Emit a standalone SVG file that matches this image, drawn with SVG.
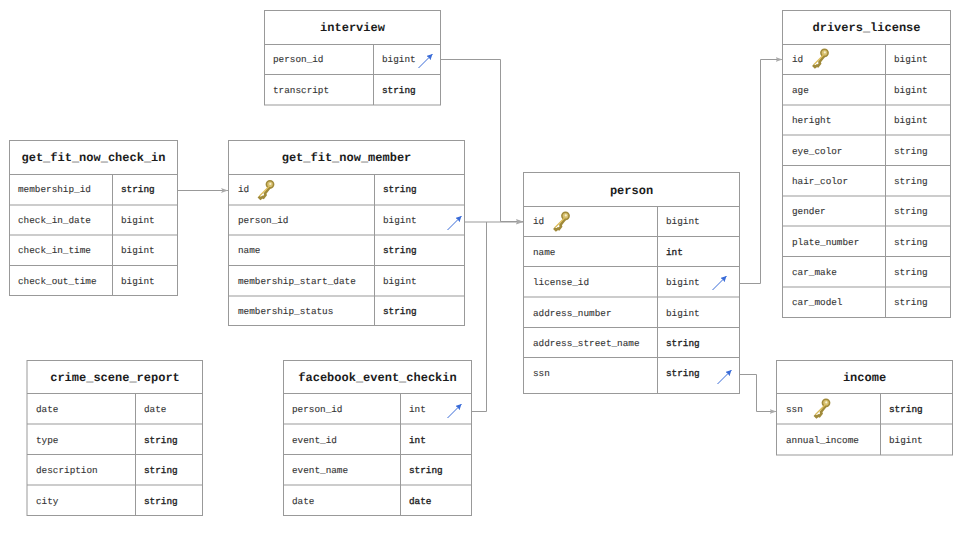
<svg xmlns="http://www.w3.org/2000/svg" width="960" height="540" viewBox="0 0 960 540">
<style>
.b{fill:#fff;stroke:#999;stroke-width:1}
.l{stroke:#999;stroke-width:1;fill:none}
.c{stroke:#999;stroke-width:1;fill:none}
text{font-family:"Liberation Mono","Courier New",monospace;fill:#333;opacity:.99;text-rendering:geometricPrecision}
.h{font-size:12px;font-weight:bold;text-anchor:middle;fill:#1a1a1a}
.t{font-size:9.35px;stroke:#333;stroke-width:.12}
.s{font-size:9.35px;fill:#222;stroke:#222;stroke-width:.35}
</style>
<defs>
<marker id="a" markerWidth="8" markerHeight="6" refX="7" refY="3" orient="auto" markerUnits="userSpaceOnUse"><path d="M0 0.5L7 3L0 5.500L1.500 3Z" fill="#aaa"/></marker>
<marker id="f" markerWidth="7" markerHeight="6" refX="6" refY="3" orient="auto" markerUnits="userSpaceOnUse"><path d="M0 0L6 3L0 6L1 3Z" fill="#3a6cd8"/></marker>
<g id="key"><path d="M1 17L3 19L5 17.500L6 18L8 15.500L7.500 14L13 7" fill="none" stroke="#a08a3a" stroke-width="2.600"/><circle cx="12.500" cy="4.800" r="3.600" fill="#d8c070" stroke="#a08a3a" stroke-width="1.600"/><circle cx="12.800" cy="4.400" r="1.100" fill="#f6f0d0"/><path d="M2 16.500L11.500 7" stroke="#dcbc58" stroke-width="1.200"/></g>
<path id="fk" d="M0 14L14 0" fill="none" stroke="#3a6cd8" stroke-width="1" marker-end="url(#f)"/>
</defs>
<rect width="960" height="540" fill="#fff"/>
<g id="connectors">
<path class="c" d="M440.500 59.500H500.500V221.500H523" marker-end="url(#a)"/>
<path class="c" d="M464 222H523" marker-end="url(#a)"/>
<path class="c" d="M471 411.500H486.500V222"/>
<path class="c" d="M739.500 283.500H760.500V59.500H782.500" marker-end="url(#a)"/>
<path class="c" d="M739.500 374.500H756.500V411.500H776.500" marker-end="url(#a)"/>
<path class="c" d="M177 190.500H228" marker-end="url(#a)"/>
</g>
<g id="interview">
<rect class="b" x="264.500" y="10.500" width="176" height="94.500"/>
<path class="l" d="M264.500 44.500H440.500M264.500 74.500H440.500M373.500 44.500V105"/>
<text class="h" x="352.500" y="31">interview</text>
<text class="t" x="273" y="62">person_id</text><text class="t" x="382" y="62">bigint</text>
<text class="t" x="273" y="92.500">transcript</text><text class="s" x="382" y="92.500">string</text>
<use href="#fk" x="418.500" y="54"/>
</g>
<g id="get_fit_now_check_in">
<rect class="b" x="9.500" y="140.500" width="168" height="155"/>
<path class="l" d="M9.500 174.500H177.500M9.500 205H177.500M9.500 235H177.500M9.500 265.500H177.500M112.500 174.500V295.500"/>
<text class="h" x="93.500" y="161">get_fit_now_check_in</text>
<text class="t" x="18" y="192">membership_id</text><text class="s" x="121" y="192">string</text>
<text class="t" x="18" y="222.500">check_in_date</text><text class="t" x="121" y="222.500">bigint</text>
<text class="t" x="18" y="253">check_in_time</text><text class="t" x="121" y="253">bigint</text>
<text class="t" x="18" y="283.500">check_out_time</text><text class="t" x="121" y="283.500">bigint</text>
</g>
<g id="get_fit_now_member">
<rect class="b" x="228.500" y="140.500" width="236" height="185"/>
<path class="l" d="M228.500 174.500H464.500M228.500 205H464.500M228.500 235H464.500M228.500 265.500H464.500M228.500 296H464.500M374.500 174.500V325.500"/>
<text class="h" x="346.500" y="161">get_fit_now_member</text>
<text class="t" x="238" y="192">id</text><text class="s" x="383" y="192">string</text>
<use href="#key" x="257.500" y="179.500"/>
<text class="t" x="238" y="222.500">person_id</text><text class="t" x="383" y="222.500">bigint</text>
<use href="#fk" x="447.500" y="216"/>
<text class="t" x="238" y="253">name</text><text class="s" x="383" y="253">string</text>
<text class="t" x="238" y="283.500">membership_start_date</text><text class="t" x="383" y="283.500">bigint</text>
<text class="t" x="238" y="314">membership_status</text><text class="s" x="383" y="314">string</text>
</g>
<g id="person">
<rect class="b" x="523.500" y="172.500" width="216" height="221"/>
<path class="l" d="M523.500 206.500H739.500M523.500 236.500H739.500M523.500 266.500H739.500M523.500 297H739.500M523.500 327.500H739.500M523.500 357.500H739.500M657.500 206.500V393.500"/>
<text class="h" x="631.500" y="193.500">person</text>
<text class="t" x="533" y="224">id</text><text class="t" x="666" y="224">bigint</text>
<use href="#key" x="553" y="211"/>
<text class="t" x="533" y="254.500">name</text><text class="s" x="666" y="254.500">int</text>
<text class="t" x="533" y="285">license_id</text><text class="t" x="666" y="285">bigint</text>
<use href="#fk" x="712.500" y="276"/>
<text class="t" x="533" y="315.500">address_number</text><text class="t" x="666" y="315.500">bigint</text>
<text class="t" x="533" y="346">address_street_name</text><text class="s" x="666" y="346">string</text>
<text class="t" x="533" y="376">ssn</text><text class="s" x="666" y="376">string</text>
<use href="#fk" x="717.500" y="370"/>
</g>
<g id="drivers_license">
<rect class="b" x="782.500" y="10.500" width="168" height="307"/>
<path class="l" d="M782.500 44.500H950.500M782.500 74.500H950.500M782.500 105H950.500M782.500 135H950.500M782.500 165.500H950.500M782.500 196H950.500M782.500 226H950.500M782.500 256.500H950.500M782.500 287H950.500M885.500 44.500V317.500"/>
<text class="h" x="866.500" y="31">drivers_license</text>
<text class="t" x="792" y="62">id</text><text class="t" x="894" y="62">bigint</text>
<use href="#key" x="812" y="48"/>
<text class="t" x="792" y="92.500">age</text><text class="t" x="894" y="92.500">bigint</text>
<text class="t" x="792" y="123">heright</text><text class="t" x="894" y="123">bigint</text>
<text class="t" x="792" y="153.500">eye_color</text><text class="t" x="894" y="153.500">string</text>
<text class="t" x="792" y="184">hair_color</text><text class="t" x="894" y="184">string</text>
<text class="t" x="792" y="214">gender</text><text class="t" x="894" y="214">string</text>
<text class="t" x="792" y="244.500">plate_number</text><text class="t" x="894" y="244.500">string</text>
<text class="t" x="792" y="275">car_make</text><text class="t" x="894" y="275">string</text>
<text class="t" x="792" y="305">car_model</text><text class="t" x="894" y="305">string</text>
</g>
<g id="income">
<rect class="b" x="776.500" y="360.500" width="176" height="94.500"/>
<path class="l" d="M776.500 393.500H952.500M776.500 424H952.500M880.500 393.500V455"/>
<text class="h" x="864.500" y="381">income</text>
<text class="t" x="786" y="412">ssn</text><text class="s" x="889" y="412">string</text>
<use href="#key" x="813.500" y="398"/>
<text class="t" x="786" y="442.500">annual_income</text><text class="t" x="889" y="442.500">bigint</text>
</g>
<g id="crime_scene_report">
<rect class="b" x="27" y="360.500" width="175.500" height="155"/>
<path class="l" d="M27 393.500H202.500M27 424H202.500M27 454.500H202.500M27 485H202.500M135.500 393.500V515.500"/>
<text class="h" x="115" y="381">crime_scene_report</text>
<text class="t" x="36" y="412">date</text><text class="t" x="144" y="412">date</text>
<text class="t" x="36" y="442.500">type</text><text class="s" x="144" y="442.500">string</text>
<text class="t" x="36" y="473">description</text><text class="s" x="144" y="473">string</text>
<text class="t" x="36" y="503.500">city</text><text class="s" x="144" y="503.500">string</text>
</g>
<g id="facebook_event_checkin">
<rect class="b" x="283.500" y="360.500" width="188" height="155"/>
<path class="l" d="M283.500 393.500H471.500M283.500 424H471.500M283.500 454.500H471.500M283.500 485H471.500M400.500 393.500V515.500"/>
<text class="h" x="377.500" y="381">facebook_event_checkin</text>
<text class="t" x="292" y="412">person_id</text><text class="t" x="409" y="412">int</text>
<use href="#fk" x="447.500" y="404"/>
<text class="t" x="292" y="442.500">event_id</text><text class="s" x="409" y="442.500">int</text>
<text class="t" x="292" y="473">event_name</text><text class="s" x="409" y="473">string</text>
<text class="t" x="292" y="503.500">date</text><text class="s" x="409" y="503.500">date</text>
</g>
</svg>
